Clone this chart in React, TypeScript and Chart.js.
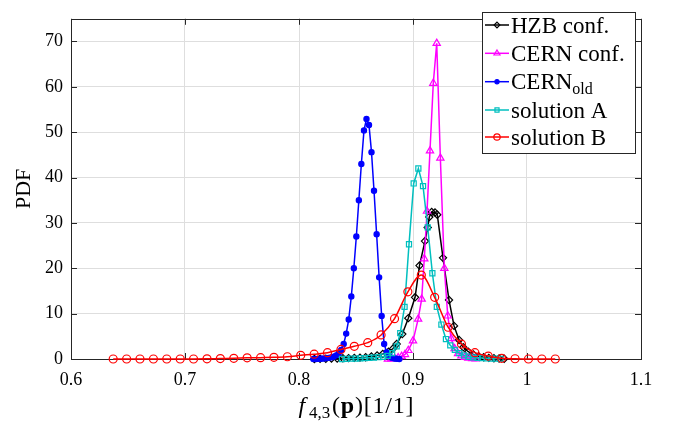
import React, { useEffect, useRef } from 'react';
import { Chart, registerables } from 'chart.js';

Chart.register(...registerables);

// ---------- data ----------
const hzbX = [0.8135, 0.8185, 0.8235, 0.8285, 0.8335, 0.8385, 0.8435, 0.8485, 0.8535, 0.8585, 0.8635, 0.8685, 0.8735, 0.8785, 0.8825, 0.8857, 0.8906, 0.8959, 0.9018, 0.9057, 0.9105, 0.9129, 0.9143, 0.9164, 0.9193, 0.9213, 0.9263, 0.9316, 0.936, 0.9404, 0.9441, 0.9485, 0.953, 0.9575, 0.962, 0.9665, 0.971, 0.9755, 0.98];
const hzbY = [0, 0.05, 0.05, 0.1, 0.1, 0.15, 0.2, 0.25, 0.3, 0.4, 0.55, 0.8, 1.1, 1.6, 2.3, 3.3, 5.5, 9.0, 13.6, 20.6, 26.0, 29.0, 31.3, 32.4, 32.3, 31.8, 22.3, 13.0, 7.3, 4.2, 2.6, 1.6, 1.0, 0.6, 0.4, 0.25, 0.15, 0.1, 0.05];

const cernX = [0.878, 0.881, 0.884, 0.887, 0.89, 0.893, 0.8959, 0.9, 0.9045, 0.9076, 0.9099, 0.9123, 0.9149, 0.9178, 0.9208, 0.924, 0.9275, 0.9305, 0.9335, 0.9365, 0.9395, 0.9425, 0.9455, 0.9485, 0.952, 0.955];
const cernY = [0, 0.05, 0.15, 0.3, 0.6, 1.0, 1.9, 4.0, 8.8, 13.2, 22.1, 32.6, 45.9, 60.8, 69.6, 44.3, 20.0, 9.5, 4.5, 2.3, 1.2, 0.7, 0.4, 0.2, 0.1, 0.05];

const oldX = [0.8126, 0.8148, 0.817, 0.8192, 0.8214, 0.8237, 0.8259, 0.8281, 0.8303, 0.8326, 0.8348, 0.837, 0.8392, 0.8414, 0.8436, 0.8459, 0.8481, 0.8503, 0.8525, 0.8547, 0.857, 0.8592, 0.8614, 0.8636, 0.8658, 0.8681, 0.8703, 0.8725, 0.8747, 0.8769, 0.8792, 0.8814, 0.8836, 0.8858, 0.888];
const oldY = [0, 0, 0.02, 0.05, 0.1, 0.15, 0.25, 0.35, 0.5, 0.8, 1.2, 2.0, 3.3, 5.6, 8.7, 13.8, 20.0, 27.0, 35.0, 43.0, 50.4, 52.9, 51.6, 45.6, 37.1, 27.5, 18.0, 9.5, 3.3, 1.5, 0.6, 0.3, 0.1, 0.05, 0];

const solAX = [0.8377, 0.8417, 0.8457, 0.8497, 0.8537, 0.8577, 0.8617, 0.8657, 0.8697, 0.8737, 0.8777, 0.8817, 0.8857, 0.8888, 0.8926, 0.8965, 0.9006, 0.9047, 0.9088, 0.9129, 0.917, 0.9209, 0.9249, 0.9289, 0.9327, 0.9367, 0.9407, 0.9447, 0.9487, 0.9527, 0.9567, 0.9607, 0.9647, 0.9687, 0.9727, 0.9767];
const solAY = [0, 0.05, 0.1, 0.1, 0.15, 0.2, 0.25, 0.3, 0.4, 0.5, 0.7, 1.3, 2.8, 5.7, 11.5, 25.3, 38.7, 42.0, 38.1, 29.0, 18.9, 11.5, 7.6, 4.4, 3.0, 2.0, 1.3, 0.8, 0.5, 0.35, 0.25, 0.2, 0.15, 0.1, 0.1, 0.05];

const solBX = [0.637, 0.6488, 0.6605, 0.6723, 0.684, 0.6958, 0.7075, 0.7193, 0.731, 0.7428, 0.7545, 0.7663, 0.778, 0.7898, 0.8015, 0.8133, 0.825, 0.8368, 0.8485, 0.8603, 0.872, 0.8838, 0.8955, 0.9073, 0.919, 0.9308, 0.9425, 0.9543, 0.966, 0.9778, 0.9895, 1.0013, 1.013, 1.0248];
const solBY = [0, 0, 0, 0, 0, 0, 0, 0.03, 0.1, 0.15, 0.25, 0.3, 0.36, 0.5, 0.8, 1.06, 1.4, 2.1, 2.8, 3.6, 5.3, 8.9, 14.8, 18.5, 13.6, 7.0, 3.3, 1.4, 0.64, 0.15, 0.05, 0, 0, 0];

const xTicks = [0.6, 0.7, 0.8, 0.9, 1.0, 1.1];
const xTickLabels = ['0.6', '0.7', '0.8', '0.9', '1', '1.1'];
const yTicks = [0, 10, 20, 30, 40, 50, 60, 70];
const yTickLabels = ['0', '10', '20', '30', '40', '50', '60', '70'];

const seriesNames = ['HZB conf.', 'CERN conf.', 'CERN', 'solution A', 'solution B'];
const seriesSubs = ['', '', 'old', '', ''];

const SERIF = "'Liberation Serif', 'Times New Roman', serif";
const AXIS = '#262626';

type Marker = 'rectRot' | 'triangle' | 'circle' | 'rect';

const styles: { color: string; marker: Marker; radius: number; filled: boolean; smooth: boolean }[] = [
  { color: '#000000', marker: 'rectRot', radius: 3.6, filled: false, smooth: false },
  { color: '#ff00ff', marker: 'triangle', radius: 4.2, filled: false, smooth: false },
  { color: '#0000ff', marker: 'circle', radius: 2.6, filled: true, smooth: false },
  { color: '#00bfbf', marker: 'rect', radius: 3.6, filled: false, smooth: false },
  { color: '#ff0000', marker: 'circle', radius: 4.0, filled: false, smooth: true },
];

function drawMarker(ctx: CanvasRenderingContext2D, m: Marker, x: number, y: number, r: number, color: string, filled: boolean) {
  ctx.save();
  ctx.strokeStyle = color;
  ctx.fillStyle = color;
  ctx.lineWidth = 1.2;
  ctx.beginPath();
  if (m === 'circle') {
    ctx.arc(x, y, r, 0, Math.PI * 2);
  } else if (m === 'rectRot') {
    ctx.moveTo(x, y - r);
    ctx.lineTo(x + r, y);
    ctx.lineTo(x, y + r);
    ctx.lineTo(x - r, y);
    ctx.closePath();
  } else if (m === 'triangle') {
    const h = r * 1.5;
    ctx.moveTo(x, y - h * 0.66);
    ctx.lineTo(x + r * 0.9, y + h * 0.34);
    ctx.lineTo(x - r * 0.9, y + h * 0.34);
    ctx.closePath();
  } else {
    const s = r * Math.SQRT1_2;
    ctx.rect(x - s, y - s, 2 * s, 2 * s);
  }
  if (filled) ctx.fill();
  ctx.stroke();
  ctx.restore();
}

export default function App() {
  const ref = useRef<HTMLCanvasElement>(null);

  useEffect(() => {
    const canvas = ref.current;
    if (!canvas) return;
    const zip = (xs: number[], ys: number[]) => xs.map((x, i) => ({ x, y: ys[i] }));
    const allX = [hzbX, cernX, oldX, solAX, solBX];
    const allY = [hzbY, cernY, oldY, solAY, solBY];

    const frame = {
      id: 'frame',
      beforeDatasetsDraw(chart: any) {
        const { ctx, chartArea: a, scales } = chart;
        ctx.save();
        ctx.strokeStyle = AXIS;
        ctx.lineWidth = 1;
        ctx.strokeRect(Math.round(a.left) + 0.5, Math.round(a.top) + 0.5, Math.round(a.right - a.left), Math.round(a.bottom - a.top));
        ctx.beginPath();
        const tl = 6;
        xTicks.forEach((v) => {
          const px = Math.round(scales.x.getPixelForValue(v)) + 0.5;
          ctx.moveTo(px, a.bottom);
          ctx.lineTo(px, a.bottom - tl);
          ctx.moveTo(px, a.top);
          ctx.lineTo(px, a.top + tl);
        });
        yTicks.forEach((v) => {
          const py = Math.round(scales.y.getPixelForValue(v)) + 0.5;
          ctx.moveTo(a.left, py);
          ctx.lineTo(a.left + tl, py);
          ctx.moveTo(a.right, py);
          ctx.lineTo(a.right - tl, py);
        });
        ctx.stroke();
        ctx.restore();
      },
      afterDraw(chart: any) {
        const { ctx, chartArea: a } = chart;
        // x axis title: f_{4,3}(p)[1/1]
        ctx.save();
        ctx.fillStyle = '#000';
        ctx.textBaseline = 'alphabetic';
        const gap = 0.8;
        const parts: { t: string; font: string; dy: number; extra: number }[] = [
          { t: 'f', font: `italic 24px ${SERIF}`, dy: 0, extra: 3 },
          { t: '4,3', font: `17px ${SERIF}`, dy: 5, extra: 1 },
          { t: '(', font: `24px ${SERIF}`, dy: 0, extra: 0 },
          { t: 'p', font: `bold 24px ${SERIF}`, dy: 0, extra: 0 },
          { t: ')', font: `24px ${SERIF}`, dy: 0, extra: 0 },
          { t: '[', font: `24px ${SERIF}`, dy: 0, extra: 0 },
          { t: '1', font: `24px ${SERIF}`, dy: 0, extra: 0 },
          { t: '/', font: `24px ${SERIF}`, dy: 0, extra: 0 },
          { t: '1', font: `24px ${SERIF}`, dy: 0, extra: 0 },
          { t: ']', font: `24px ${SERIF}`, dy: 0, extra: 0 },
        ];
        let total = 0;
        const widths = parts.map((p, i) => {
          ctx.font = p.font;
          const w = ctx.measureText(p.t).width + p.extra + (i < parts.length - 1 ? gap : 0);
          total += w;
          return w;
        });
        let cx = (a.left + a.right) / 2 - total / 2;
        const base = 413;
        parts.forEach((p, i) => {
          ctx.font = p.font;
          ctx.fillText(p.t, cx, base + p.dy);
          cx += widths[i];
        });
        ctx.restore();

        // legend
        const lx = 482, ly = 12, lw = 153, lh = 141;
        ctx.save();
        ctx.fillStyle = '#ffffff';
        ctx.fillRect(lx, ly, lw, lh);
        ctx.strokeStyle = AXIS;
        ctx.lineWidth = 1;
        ctx.strokeRect(lx + 0.5, ly + 0.5, lw, lh);
        const rowY = [25, 53.3, 81.7, 110, 137];
        seriesNames.forEach((name, i) => {
          const st = styles[i];
          const y = rowY[i];
          ctx.strokeStyle = st.color;
          ctx.lineWidth = 1.5;
          ctx.beginPath();
          ctx.moveTo(485, y);
          ctx.lineTo(509, y);
          ctx.stroke();
          drawMarker(ctx, st.marker, 497, y, st.radius * 0.8, st.color, st.filled);
          ctx.fillStyle = '#000';
          ctx.textBaseline = 'alphabetic';
          ctx.font = `23px ${SERIF}`;
          ctx.fillText(name, 511, y + 7.5);
          if (seriesSubs[i]) {
            const w = ctx.measureText(name).width;
            ctx.font = `16px ${SERIF}`;
            ctx.fillText(seriesSubs[i], 511 + w, y + 12);
          }
        });
        ctx.restore();
      },
    };

    const chart = new Chart(canvas, {
      type: 'line',
      data: {
        datasets: seriesNames.map((name, i) => {
          const st = styles[i];
          return {
            label: name + seriesSubs[i],
            data: zip(allX[i], allY[i]),
            borderColor: st.color,
            backgroundColor: st.color,
            borderWidth: 1.5,
            pointStyle: st.marker,
            pointRadius: st.radius,
            pointBorderWidth: 1.2,
            pointBorderColor: st.color,
            pointBackgroundColor: st.filled ? st.color : 'rgba(0,0,0,0)',
            tension: st.smooth ? 0.4 : 0,
            cubicInterpolationMode: st.smooth ? 'monotone' : 'default',
            fill: false,
            clip: false,
            order: 5 - i,
          } as any;
        }),
      },
      options: {
        animation: false,
        responsive: false,
        devicePixelRatio: 1,
        layout: { padding: { top: 6, right: 32, left: 0, bottom: 0 } },
        plugins: { legend: { display: false }, tooltip: { enabled: false } },
        scales: {
          x: {
            type: 'linear',
            min: 0.6,
            max: 1.1,
            afterBuildTicks: (s: any) => {
              s.ticks = xTicks.map((v) => ({ value: v }));
            },
            afterFit: (s: any) => {
              s.height = 72;
            },
            grid: { color: '#dedede', drawTicks: false, lineWidth: 1 },
            border: { display: false },
            ticks: {
              autoSkip: false,
              maxRotation: 0,
              padding: 10,
              color: '#000',
              font: { family: SERIF, size: 18 },
              callback: (_v: any, i: number) => xTickLabels[i],
            },
          },
          y: {
            type: 'linear',
            min: 0,
            max: 75,
            afterBuildTicks: (s: any) => {
              s.ticks = yTicks.map((v) => ({ value: v }));
            },
            afterFit: (s: any) => {
              s.width = 71;
            },
            grid: { color: '#dedede', drawTicks: false, lineWidth: 1 },
            border: { display: false },
            title: {
              display: true,
              text: 'PDF',
              color: '#000',
              font: { family: SERIF, size: 22 },
              padding: { top: 11, bottom: 0 },
            },
            ticks: {
              autoSkip: false,
              padding: 8,
              color: '#000',
              font: { family: SERIF, size: 18 },
              callback: (_v: any, i: number) => yTickLabels[i],
            },
          },
        },
      },
      plugins: [frame],
    } as any);

    return () => chart.destroy();
  }, []);

  return (
    <div style={{ position: 'fixed', left: 0, top: 0, width: 673, height: 431, background: '#fff' }}>
      <canvas ref={ref} width={673} height={431} style={{ width: 673, height: 431, display: 'block' }} />
    </div>
  );
}
